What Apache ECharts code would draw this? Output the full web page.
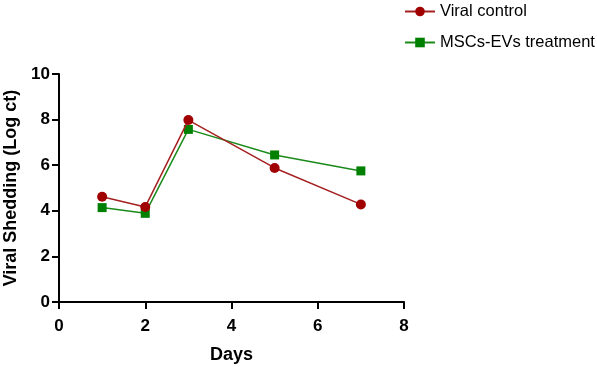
<!DOCTYPE html>
<html>
<head>
<meta charset="utf-8">
<script src="https://cdn.jsdelivr.net/npm/echarts@6/dist/echarts.min.js"></script>
<style>
html, body { margin: 0; padding: 0; background: #fff; }
#main { width: 597px; height: 367px; }
</style>
</head>
<body>
<div id="main"></div>
<script>
var days = [1, 2, 3, 5, 7];
var viralControl = [4.62, 4.17, 7.98, 5.88, 4.28];
var mscsTreatment = [4.14, 3.89, 7.57, 6.45, 5.75];
var seriesNames = ['Viral control', 'MSCs-EVs treatment'];

function pairs(vals) {
	return days.map(function (d, i) { return [d, vals[i]]; });
}

var myChart = echarts.init(document.getElementById('main'));

var axisText = {
	color: '#000',
	fontFamily: 'Liberation Sans, Arial',
	fontWeight: 'bold',
	fontSize: 17
};

var option = {
	animation: false,
	backgroundColor: '#fff',
	legend: {
		orient: 'vertical',
		left: 399,
		top: -2,
		itemGap: 14,
		itemWidth: 30,
		itemHeight: 12,
		textStyle: {
			color: '#000',
			fontFamily: 'Liberation Sans, Arial',
			fontSize: 16.5
		},
		data: seriesNames
	},
	grid: {
		left: 59,
		right: 193,
		top: 74,
		bottom: 65,
		outerBoundsMode: 'none',
		containLabel: false
	},
	xAxis: {
		type: 'value',
		min: 0,
		max: 8,
		interval: 2,
		name: 'Days',
		nameLocation: 'middle',
		nameGap: 44,
		nameTextStyle: {
			color: '#000',
			fontFamily: 'Liberation Sans, Arial',
			fontWeight: 'bold',
			fontSize: 18
		},
		axisLine: { lineStyle: { color: '#000', width: 2 } },
		axisTick: { show: true, length: 7, lineStyle: { color: '#000', width: 2 } },
		axisLabel: Object.assign({ margin: 16 }, axisText),
		splitLine: { show: false }
	},
	yAxis: {
		type: 'value',
		min: 0,
		max: 10,
		interval: 2,
		name: 'Viral Shedding (Log ct)',
		nameLocation: 'middle',
		nameGap: 33,
		nameTextStyle: {
			color: '#000',
			fontFamily: 'Liberation Sans, Arial',
			fontWeight: 'bold',
			fontSize: 18
		},
		axisLine: { show: true, lineStyle: { color: '#000', width: 2 } },
		axisTick: { show: true, length: 7, lineStyle: { color: '#000', width: 2 } },
		axisLabel: Object.assign({ margin: 9 }, axisText),
		splitLine: { show: false }
	},
	series: [{
		name: seriesNames[0],
		type: 'line',
		data: pairs(viralControl),
		symbol: 'circle',
		symbolSize: 10,
		itemStyle: { color: '#a00000' },
		lineStyle: { color: '#a52020', width: 1.5 },
		z: 3
	}, {
		name: seriesNames[1],
		type: 'line',
		data: pairs(mscsTreatment),
		symbol: 'rect',
		symbolSize: 9,
		itemStyle: { color: '#008000' },
		lineStyle: { color: '#1a8a1a', width: 1.5 },
		z: 2
	}]
};

myChart.setOption(option);
</script>
</body>
</html>
